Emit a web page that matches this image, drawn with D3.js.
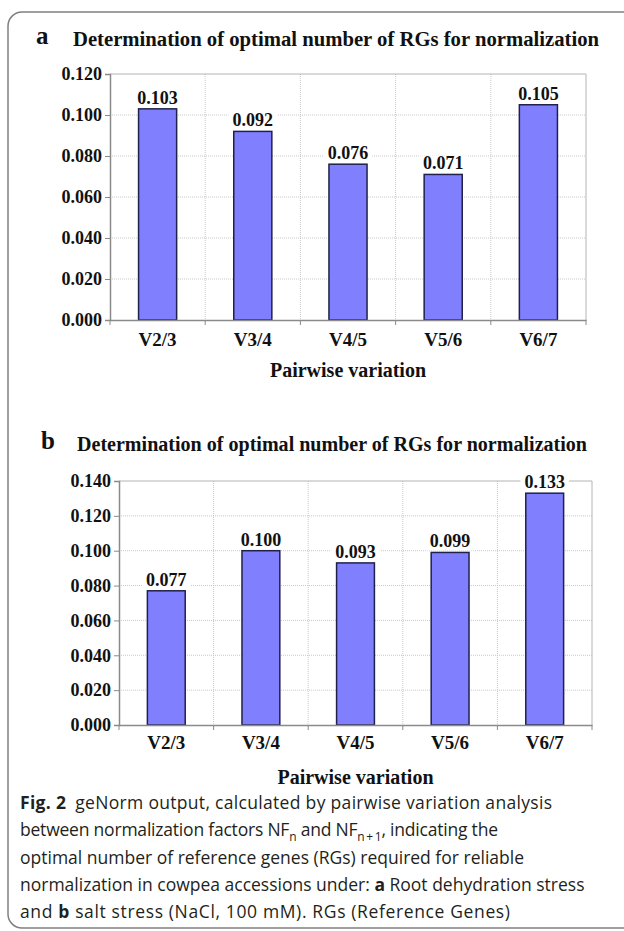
<!DOCTYPE html>
<html>
<head>
<meta charset="utf-8">
<script src="https://cdn.jsdelivr.net/npm/d3@7"></script>
<style>
body { margin: 0; background: #fff; }
.serif { font-family: "Liberation Serif", "Times New Roman", serif; font-weight: bold; fill: #111; }
.caption { font-family: "Open Sans", "Noto Sans", sans-serif; fill: #231f20; font-size: 17.5px; }
</style>
</head>
<body>
<div id="figure"></div>
<script>
// chart values
var categories = ["V2/3", "V3/4", "V4/5", "V5/6", "V6/7"];
var valuesA = [0.103, 0.092, 0.076, 0.071, 0.105];
var valuesB = [0.077, 0.100, 0.093, 0.099, 0.133];
var ticksA = [0, 0.02, 0.04, 0.06, 0.08, 0.10, 0.12];
var ticksB = [0, 0.02, 0.04, 0.06, 0.08, 0.10, 0.12, 0.14];
var panelTitle = "Determination of optimal number of RGs for normalization";
var axisTitle = "Pairwise variation";

var width = 624, height = 931;

var svg = d3.select("#figure").append("svg")
    .attr("width", width)
    .attr("height", height);

// outer frame (open to the right side)
svg.append("rect")
    .attr("x", 8).attr("y", 12)
    .attr("width", 660).attr("height", 916)
    .attr("rx", 14)
    .attr("fill", "none")
    .attr("stroke", "#808080")
    .attr("stroke-width", 1.5);

/**
 * Draws one bar panel
 */
function drawPanel(cfg) {
    var g = svg.append("g");

    var yScale = d3.scaleLinear()
        .domain([0, cfg.yMax])
        .range([cfg.bottom, cfg.top]);

    var xScale = d3.scaleBand()
        .domain(categories)
        .range([cfg.left, cfg.right])
        .paddingInner(0.6)
        .paddingOuter(0.3);

    var step = xScale.step();

    // letter + title
    g.append("text").attr("class", "serif")
        .attr("x", cfg.letterX).attr("y", cfg.titleY - 2)
        .style("font-size", "25px")
        .text(cfg.letter);
    g.append("text").attr("class", "serif")
        .attr("x", cfg.titleX).attr("y", cfg.titleY)
        .attr("textLength", cfg.titleLen)
        .attr("lengthAdjust", "spacingAndGlyphs")
        .style("font-size", "20px")
        .text(panelTitle);

    // grid
    g.selectAll(".hgrid").data(cfg.ticks.filter(function (d) { return d > 0 && d < cfg.yMax; }))
        .enter().append("line")
        .attr("x1", cfg.left).attr("x2", cfg.right)
        .attr("y1", function (d) { return yScale(d); })
        .attr("y2", function (d) { return yScale(d); })
        .attr("stroke", "#c8c8c8")
        .attr("stroke-dasharray", "1,1");

    g.selectAll(".vgrid").data(categories.slice(1))
        .enter().append("line")
        .attr("x1", function (d) { return xScale(d) - step * 0.3; })
        .attr("x2", function (d) { return xScale(d) - step * 0.3; })
        .attr("y1", cfg.top).attr("y2", cfg.bottom)
        .attr("stroke", "#c8c8c8")
        .attr("stroke-dasharray", "1,1");

    // plot border top/right
    g.append("path")
        .attr("d", "M" + cfg.left + "," + cfg.top + "H" + cfg.right + "V" + cfg.bottom)
        .attr("fill", "none")
        .attr("stroke", "#b4b4b4");

    // bars
    g.selectAll(".bar").data(cfg.values)
        .enter().append("rect")
        .attr("x", function (d, i) { return xScale(categories[i]); })
        .attr("y", function (d) { return yScale(d); })
        .attr("width", xScale.bandwidth())
        .attr("height", function (d) { return yScale(0) - yScale(d); })
        .attr("fill", "#8080ff")
        .attr("stroke", "#20204a")
        .attr("stroke-width", 1.5);

    // value labels with white background
    cfg.values.forEach(function (d, i) {
        var cx = xScale(categories[i]) + xScale.bandwidth() / 2;
        var lbl = g.append("g");
        var bg = lbl.append("rect").attr("fill", "#fff");
        var t = lbl.append("text").attr("class", "serif")
            .attr("x", cx).attr("y", yScale(d) - 5)
            .attr("text-anchor", "middle")
            .style("font-size", "18px")
            .text(d3.format(".3f")(d));
        var bb = t.node().getBBox();
        bg.attr("x", bb.x - 4).attr("y", bb.y + 2)
            .attr("width", bb.width + 8).attr("height", bb.height - 3);
    });

    // y axis
    var yAxis = d3.axisLeft(yScale)
        .tickValues(cfg.ticks)
        .tickFormat(d3.format(".3f"))
        .tickSize(5)
        .tickPadding(3);
    var ya = g.append("g")
        .attr("transform", "translate(" + cfg.left + ",0)")
        .call(yAxis);
    ya.select(".domain").attr("stroke", "#8a8a8a").attr("stroke-width", 1.5);
    ya.selectAll(".tick line").attr("stroke", "#8a8a8a");
    ya.selectAll(".tick text").attr("class", "serif")
        .style("font-size", "18px")
        .attr("fill", null);

    // x axis
    var xAxis = d3.axisBottom(xScale).tickSize(0).tickPadding(cfg.xPad);
    var xa = g.append("g")
        .attr("transform", "translate(0," + cfg.bottom + ")")
        .call(xAxis);
    xa.select(".domain").attr("stroke", "#8a8a8a").attr("stroke-width", 1.5);
    xa.selectAll(".tick text").attr("class", "serif")
        .style("font-size", "19px")
        .attr("fill", null);

    // boundary ticks
    g.selectAll(".xtick").data(categories.concat(["end"]))
        .enter().append("line")
        .attr("x1", function (d, i) { return cfg.left + i * step; })
        .attr("x2", function (d, i) { return cfg.left + i * step; })
        .attr("y1", cfg.bottom).attr("y2", cfg.bottom + 5)
        .attr("stroke", "#8a8a8a");

    g.append("text").attr("class", "serif")
        .attr("x", (cfg.left + cfg.right) / 2)
        .attr("y", cfg.axisTitleY)
        .attr("text-anchor", "middle")
        .style("font-size", "20px")
        .text(axisTitle);
}

drawPanel({
    letter: "a", letterX: 36, titleX: 73, titleY: 46, titleLen: 526,
    left: 110, right: 586, top: 74, bottom: 320,
    yMax: 0.12, ticks: ticksA, values: valuesA,
    xPad: 13, axisTitleY: 377
});

drawPanel({
    letter: "b", letterX: 41, titleX: 77, titleY: 451, titleLen: 510,
    left: 119, right: 592, top: 481, bottom: 725,
    yMax: 0.14, ticks: ticksB, values: valuesB,
    xPad: 11, axisTitleY: 784
});

// caption, one text per line; null = natural width
var lineX = 20, lineY0 = 809, lineH = 27.3;
var lineWidths = [532, 478, null, null, 490];

function captionLine(i) {
    var t = svg.append("text").attr("class", "caption")
        .attr("x", lineX).attr("y", lineY0 + lineH * i);
    if (lineWidths[i]) {
        t.attr("textLength", lineWidths[i]).attr("lengthAdjust", "spacing");
    }
    return t;
}

var l1 = captionLine(0);
l1.append("tspan").style("font-weight", "bold").text("Fig. 2");
l1.append("tspan").text("\u2002geNorm output, calculated by pairwise variation analysis");

var l2 = captionLine(1);
l2.append("tspan").text("between normalization factors NF");
l2.append("tspan").attr("dy", 5).style("font-size", "12px").text("n");
l2.append("tspan").attr("dy", -5).text(" and NF");
l2.append("tspan").attr("dy", 5).style("font-size", "12px").text("n\u2009+\u20091");
l2.append("tspan").attr("dy", -5).text(", indicating the");

captionLine(2).text("optimal number of reference genes (RGs) required for reliable");

var l4 = captionLine(3);
l4.append("tspan").text("normalization in cowpea accessions under: ");
l4.append("tspan").style("font-weight", "bold").text("a");
l4.append("tspan").text(" Root dehydration stress");

var l5 = captionLine(4);
l5.append("tspan").text("and ");
l5.append("tspan").style("font-weight", "bold").text("b");
l5.append("tspan").text(" salt stress (NaCl, 100 mM). RGs (Reference Genes)");
</script>
</body>
</html>
